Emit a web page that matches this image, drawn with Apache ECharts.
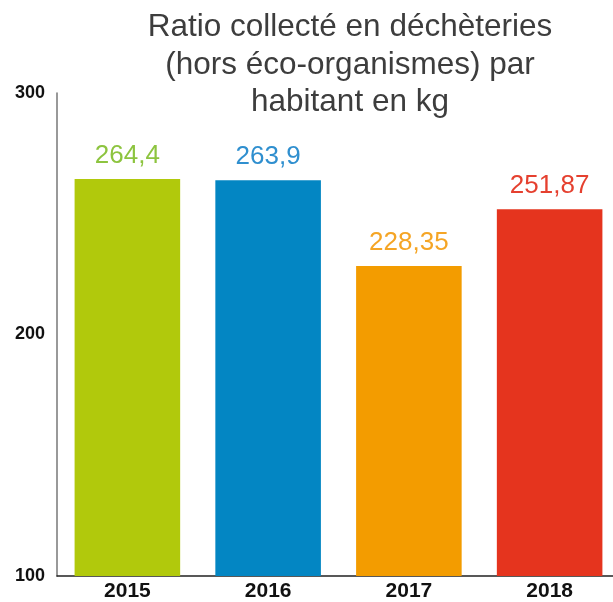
<!DOCTYPE html>
<html>
<head>
<meta charset="utf-8">
<script src="https://cdn.jsdelivr.net/npm/echarts@6/dist/echarts.min.js"></script>
<style>
  html, body { margin: 0; padding: 0; background: #fff; overflow: hidden; }
  /* plot runs past the right edge of the window, like the original */
  #main { width: 620px; height: 602px; }
</style>
</head>
<body>
<div id="main"></div>
<script>
var years = ['2015', '2016', '2017', '2018'];
var values = [264.4, 263.9, 228.35, 251.87];
var valueLabels = ['264,4', '263,9', '228,35', '251,87'];
var barColors = ['#b1c90c', '#0386c3', '#f39c00', '#e5341e'];
var labelColors = ['#8dc43f', '#2f8fcf', '#f5a525', '#e5402f'];

var myChart = echarts.init(document.getElementById('main'));
var font = '"Liberation Sans", Arial, sans-serif';

var option = {
    animation: false,
    graphic: [{
        type: 'text',
        x: 350,
        y: 9,
        style: {
            text: 'Ratio collecté en déchèteries\n(hors éco-organismes) par\nhabitant en kg',
            fontFamily: font,
            fontSize: 31.5,
            lineHeight: 37.5,
            fill: '#3d3d3d',
            textAlign: 'center',
            textVerticalAlign: 'top'
        }
    }],
    grid: {
        left: 57,
        top: 93,
        right: 0,
        bottom: 25,
        containLabel: false
    },
    xAxis: {
        type: 'category',
        data: years,
        axisTick: { show: false },
        axisLine: { lineStyle: { color: '#222', width: 1.5 } },
        axisLabel: {
            margin: 5,
            color: '#111',
            fontFamily: font,
            fontWeight: 'bold',
            fontSize: 21
        }
    },
    yAxis: {
        type: 'value',
        min: 100,
        max: 300,
        interval: 100,
        splitLine: { show: false },
        axisTick: { show: false },
        axisLine: { show: true, lineStyle: { color: '#777', width: 1.5 } },
        axisLabel: {
            margin: 12,
            color: '#111',
            fontFamily: font,
            fontWeight: 'bold',
            fontSize: 18
        }
    },
    series: [{
        type: 'bar',
        barWidth: '75%',
        data: values.map(function (v, i) {
            return {
                value: v,
                itemStyle: { color: barColors[i] },
                label: { color: labelColors[i] }
            };
        }),
        label: {
            show: true,
            position: 'top',
            distance: 10,
            fontFamily: font,
            fontSize: 26,
            formatter: function (p) { return valueLabels[p.dataIndex]; }
        }
    }]
};
myChart.setOption(option);
</script>
</body>
</html>
